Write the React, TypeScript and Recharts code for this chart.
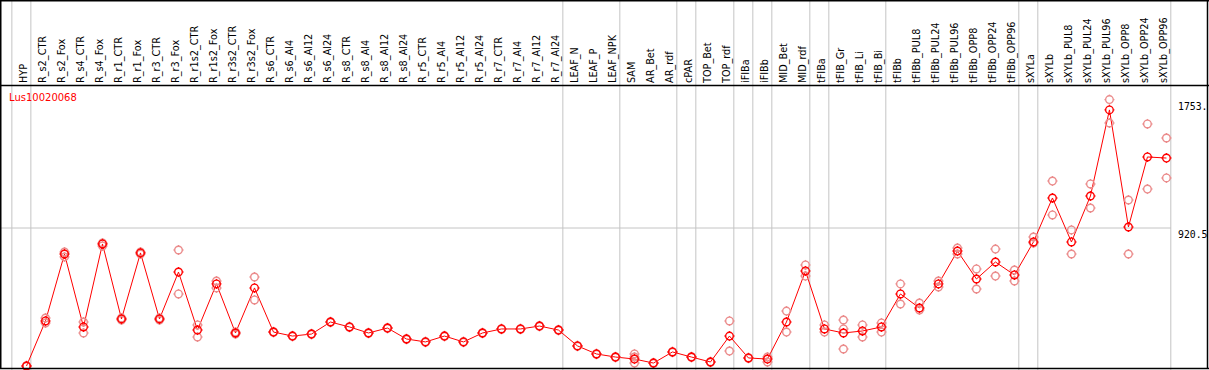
import { ComposedChart, Line, Scatter, XAxis, YAxis, ReferenceLine } from "recharts";

const categories = [
  "HYP", "R_s2_CTR", "R_s2_Fox", "R_s4_CTR", "R_s4_Fox", "R_r1_CTR", "R_r1_Fox", "R_r3_CTR", "R_r3_Fox",
  "R_r1s2_CTR", "R_r1s2_Fox", "R_r3s2_CTR", "R_r3s2_Fox", "R_s6_CTR", "R_s6_Al4", "R_s6_Al12", "R_s6_Al24",
  "R_s8_CTR", "R_s8_Al4", "R_s8_Al12", "R_s8_Al24", "R_r5_CTR", "R_r5_Al4", "R_r5_Al12", "R_r5_Al24",
  "R_r7_CTR", "R_r7_Al4", "R_r7_Al12", "R_r7_Al24", "LEAF_N", "LEAF_P", "LEAF_NPK", "SAM", "AR_Bet", "AR_rdf",
  "cPAR", "TOP_Bet", "TOP_rdf", "iFIBa", "iFIBb", "MID_Bet", "MID_rdf", "tFIBa", "tFIB_Gr", "tFIB_Li", "tFIB_Bi",
  "tFIBb", "tFIBb_PUL8", "tFIBb_PUL24", "tFIBb_PUL96", "tFIBb_OPP8", "tFIBb_OPP24", "tFIBb_OPP96",
  "sXYLa", "sXYLb", "sXYLb_PUL8", "sXYLb_PUL24", "sXYLb_PUL96", "sXYLb_OPP8", "sXYLb_OPP24", "sXYLb_OPP96",
];

// mean expression per sample
const means = [
  26, 318, 752, 279, 817, 331, 759, 331, 635,
  259, 558, 240, 532, 246, 220, 233, 311,
  279, 240, 272, 201, 182, 220, 182, 240,
  266, 266, 285, 259, 156, 104, 84, 71, 45, 117,
  84, 52, 220, 78, 71, 311, 642, 266, 240, 253, 279,
  493, 402, 558, 771, 590, 700, 616,
  830, 1115, 830, 1128, 1686, 927, 1381, 1374,
];

// replicates (null = none)
const rep1 = [
  24, 337, 765, 311, 823, 337, 765, 337, 778,
  292, 577, 246, 603, 248, 222, 235, 313,
  281, 242, 274, 203, 184, 222, 184, 242,
  268, 268, 287, 261, 158, 106, 86, 104, 47, 119,
  86, 54, 318, 80, 84, 382, 681, 292, 324, 292, 305,
  558, 434, 577, 791, 655, 784, 648,
  862, 1225, 908, 1206, 1753, 1102, 1595, 1504,
];
const rep2 = [
  28, 305, 733, 240, 804, 324, 752, 324, 493,
  214, 532, 233, 454, 244, 218, 231, 309,
  277, 238, 270, 199, 180, 218, 180, 238,
  264, 264, 283, 257, 154, 102, 82, 45, 43, 115,
  82, 50, 123, 76, 52, 246, 609, 246, 136, 214, 246,
  428, 389, 538, 752, 525, 609, 577,
  823, 1005, 752, 1050, 1601, 752, 1173, 1245,
];
const rep3 = [
  null, null, null, null, null, null, null, null, null,
  null, null, null, null, null, null, null, null,
  null, null, null, null, null, null, null, null,
  null, null, null, null, null, null, null, 84, null, null,
  null, null, null, null, null, null, null, null, 266, null, null,
  null, null, null, null, null, null, null,
  null, null, null, null, null, null, null, null,
];

// group separators sit just after these sample positions
const separators = [0, 1, 29, 32, 35, 36, 38, 39, 40, 42, 43, 46, 53, 54, 61];

const yTicks = [0, 920.5, 1753];
const yTickLabels = ["0", "920.5", "1753."];

const data = categories.map((c, i) => ({ idx: i + 1, name: c, mean: means[i] }));
const reps = [rep1, rep2, rep3]
  .flatMap((r) => r.map((v, i) => ({ idx: i + 1, v })))
  .filter((d) => d.v !== null);

const RED = "#ff0000";
const PINK = "#eb8c8c";

function Marker({ cx, cy, color }: { cx?: number; cy?: number; color: string }) {
  if (cx == null || cy == null) return null;
  return (
    <g stroke={color} fill="none" strokeWidth={1.4}>
      <circle cx={cx} cy={cy} r={3.8} />
      <line x1={cx} x2={cx} y1={cy - 5} y2={cy - 4} />
      <line x1={cx} x2={cx} y1={cy + 4} y2={cy + 5} />
      <line x1={cx - 5} x2={cx - 4} y1={cy} y2={cy} />
      <line x1={cx + 4} x2={cx + 5} y1={cy} y2={cy} />
    </g>
  );
}

function TopTick(props: any) {
  const { x, payload } = props;
  const label = categories[payload.value - 1];
  if (!label) return null;
  return (
    <text
      transform={`translate(${x + 0.5},83) rotate(-90)`}
      textAnchor="start"
      fontFamily="DejaVu Sans"
      fontSize={9.7}
      fill="#000"
    >
      {label}
    </text>
  );
}

function RightTick(props: any) {
  const { y, payload } = props;
  const i = yTicks.indexOf(payload.value);
  return (
    <text x={1178} y={payload.value === 0 ? y - 5 : y + 10} fontFamily="DejaVu Sans Mono" fontSize={9.8} fill="#000">
      {yTickLabels[i]}
    </text>
  );
}

export default function App() {
  return (
    <div style={{ position: "absolute", left: 0, top: 0, width: 1209, height: 370, background: "#fff" }}>
      <ComposedChart width={1209} height={370} data={data} margin={{ top: 0, right: 0, bottom: 0, left: 0 }}>
        <XAxis
          type="number"
          dataKey="idx"
          orientation="top"
          domain={[-0.395, 61.24]}
          ticks={data.map((d) => d.idx)}
          interval={0}
          height={86}
          axisLine={false}
          tickLine={false}
          tick={<TopTick />}
        />
        <YAxis
          orientation="right"
          width={38}
          domain={[0, 1841]}
          ticks={yTicks}
          axisLine={false}
          tickLine={false}
          tick={<RightTick />}
        />
        <ReferenceLine y={920.5} stroke="#c4c4c4" strokeWidth={1} />
        {separators.map((s) => (
          <ReferenceLine
            key={s}
            x={s + 0.23}
            stroke="#c4c4c4"
            shape={(p: any) => <line x1={p.x1} x2={p.x2} y1={0} y2={370} stroke="#c4c4c4" strokeWidth={1} />}
          />
        ))}
        <Scatter
          data={reps}
          dataKey="v"
          isAnimationActive={false}
          shape={(p: any) => <Marker cx={p.cx} cy={p.cy} color={PINK} />}
        />
        <Line
          dataKey="mean"
          stroke={RED}
          strokeWidth={1}
          isAnimationActive={false}
          dot={(p: any) => <Marker key={p.index} cx={p.cx} cy={p.cy} color={RED} />}
          activeDot={false}
        />
      </ComposedChart>
      <svg width={1209} height={370} style={{ position: "absolute", left: 0, top: 0, pointerEvents: "none" }}>
        <g stroke="#000" strokeWidth={1.5} fill="none">
          <line x1={0} x2={1209} y1={0.75} y2={0.75} />
          <line x1={0} x2={1209} y1={85.5} y2={85.5} />
          <line x1={0} x2={1209} y1={368.5} y2={368.5} />
          <line x1={0.75} x2={0.75} y1={0} y2={369} />
          <line x1={1207.5} x2={1207.5} y1={0} y2={369} />
        </g>
        <text x={9} y={101} fontFamily="DejaVu Sans" fontSize={10} fill={RED}>
          Lus10020068
        </text>
      </svg>
    </div>
  );
}
